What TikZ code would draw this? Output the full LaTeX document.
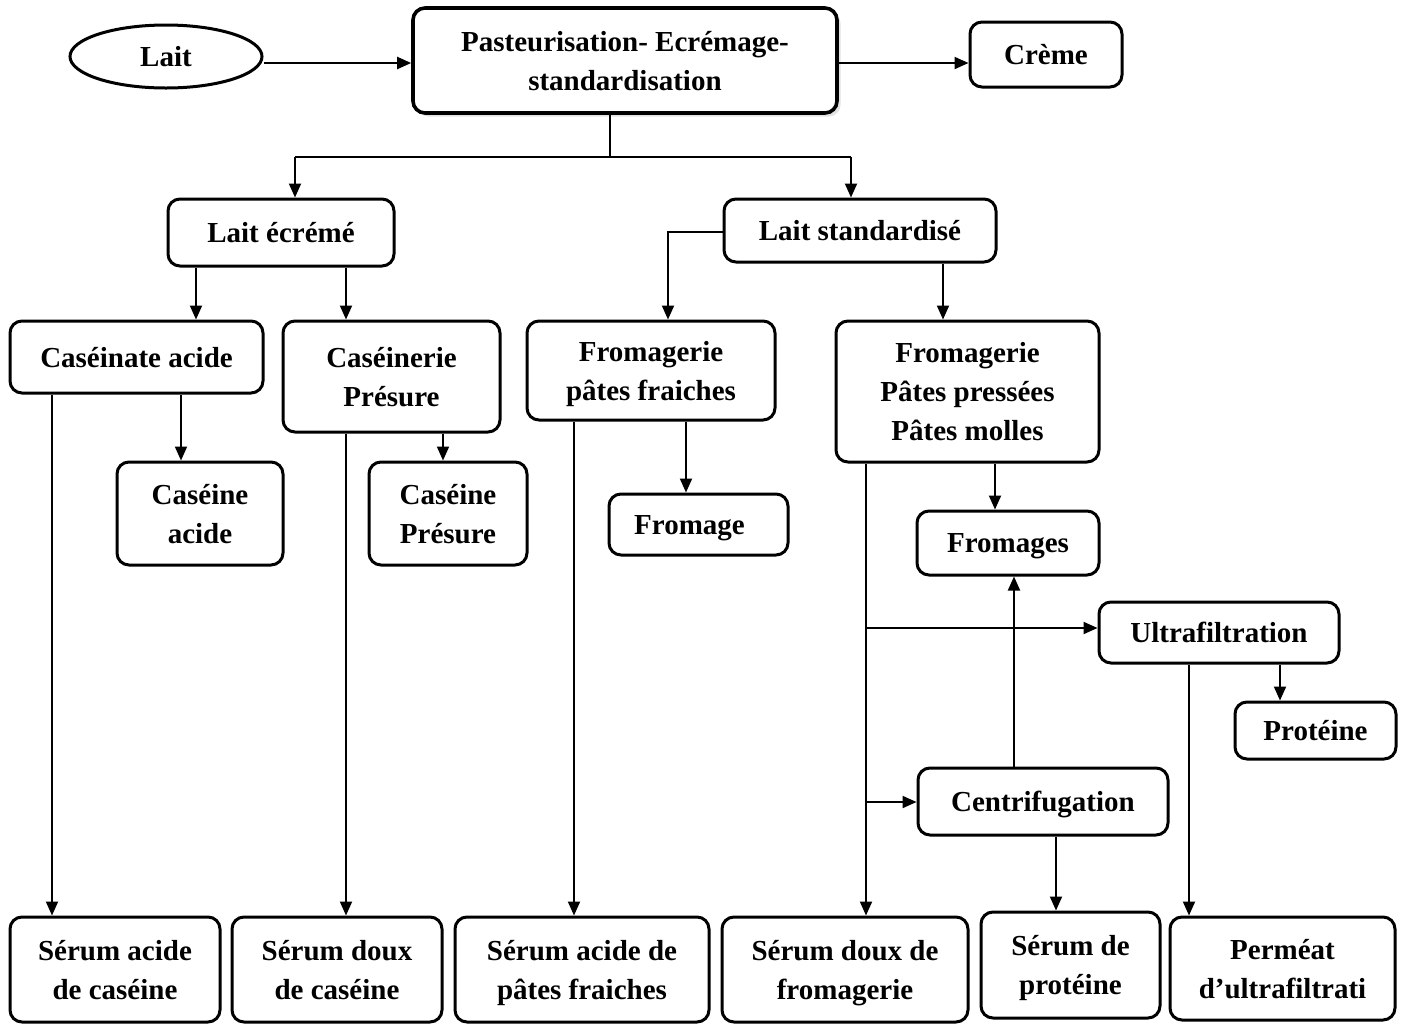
\documentclass[tikz,border=0pt]{standalone}
\usepackage{fontspec}
\setmainfont{Liberation Serif}
\usetikzlibrary{shapes.geometric,shadows,arrows.meta}
\begin{document}
\begin{tikzpicture}[x=0.5pt,y=-0.5pt,
  txt/.style={font=\fontsize{14.5}{19.5}\selectfont\bfseries,align=center},
  box/.style={txt,draw,fill=white,line width=1.5pt,rounded corners=6pt,inner sep=0pt,text depth=0pt},
  con/.style={line width=1pt,-{Triangle[length=7pt,width=6pt]}},
  ln/.style={line width=1pt}]
\useasboundingbox[fill=white] (0,0) rectangle (1405,1024);
% nodes
\node[txt,draw,ellipse,line width=1.5pt,inner sep=0pt,minimum width=96pt,minimum height=31.5pt] (lait) at (166,56.5) {Lait};
\node[box,line width=1.8pt,minimum width=212pt,minimum height=52.5pt,
  drop shadow={shadow xshift=1.8pt,shadow yshift=-1.8pt,fill=gray!45}] (past) at (625,60.5) {Pasteurisation- Ecrémage-\\standardisation};
\node[box,minimum width=76pt,minimum height=32.5pt] (creme) at (1046,54.5) {Crème};
\node[box,minimum width=113pt,minimum height=33.5pt] (le) at (281,232.5) {Lait écrémé};
\node[box,minimum width=136pt,minimum height=31.5pt] (ls) at (860,230.5) {Lait standardisé};
\node[box,minimum width=126.5pt,minimum height=36pt] (ca) at (136.5,357) {Caséinate acide};
\node[box,minimum width=108.5pt,minimum height=55.5pt] (cp) at (391.5,376.5) {Caséinerie\\Présure};
\node[box,minimum width=124pt,minimum height=49.5pt] (fpf) at (651,370.5) {Fromagerie\\pâtes fraiches};
\node[box,minimum width=131.5pt,minimum height=70.5pt] (fpp) at (967.5,391.5) {Fromagerie\\Pâtes pressées\\Pâtes molles};
\node[box,minimum width=83pt,minimum height=51.5pt] (cac) at (200,513.5) {Caséine\\acide};
\node[box,minimum width=79pt,minimum height=51.5pt] (cpr) at (448,513.5) {Caséine\\Présure};
\node[box,minimum width=89.5pt,minimum height=30.5pt] (fro) at (698.5,524.5) {Fromage\hspace*{9pt}};
\node[box,minimum width=91pt,minimum height=32pt] (fros) at (1008,543) {Fromages};
\node[box,minimum width=120pt,minimum height=30.5pt] (uf) at (1219,632.5) {Ultrafiltration};
\node[box,minimum width=80.5pt,minimum height=28.5pt] (prot) at (1315.5,730.5) {Protéine};
\node[box,minimum width=125pt,minimum height=33.5pt] (cen) at (1043,801.5) {Centrifugation};
\node[box,minimum width=105pt,minimum height=52.5pt] (sac) at (115,969.5) {Sérum acide\\de caséine};
\node[box,minimum width=105pt,minimum height=52.5pt] (sdc) at (337,969.5) {Sérum doux\\de caséine};
\node[box,minimum width=127pt,minimum height=52.5pt] (sapf) at (582,969.5) {Sérum acide de\\pâtes fraiches};
\node[box,minimum width=123pt,minimum height=52.5pt] (sdf) at (845,969.5) {Sérum doux de\\fromagerie};
\node[box,minimum width=89.5pt,minimum height=53pt] (sp) at (1070.5,965) {Sérum de\\protéine};
\node[box,minimum width=112.5pt,minimum height=51.5pt] (perm) at (1282.5,968.5) {Perméat\\d’ultrafiltrati};
% helper coordinates
\coordinate (y63) at (0,63);
\coordinate (j) at (610,157);
\coordinate (jl) at (295,157);
\coordinate (jr) at (851,157);
\coordinate (k) at (668,232);
\coordinate (x943) at (943,0);
\coordinate (x196) at (196,0);
\coordinate (x346) at (346,0);
\coordinate (x181) at (181,0);
\coordinate (x443) at (443,0);
\coordinate (x686) at (686,0);
\coordinate (x995) at (995,0);
\coordinate (x52) at (52,0);
\coordinate (x574) at (574,0);
\coordinate (x866) at (866,0);
\coordinate (b1) at (866,628);
\coordinate (b2) at (866,802);
\coordinate (x1014) at (1014,0);
\coordinate (x1056) at (1056,0);
\coordinate (x1280) at (1280,0);
\coordinate (x1189) at (1189,0);
% connectors
\draw[con] (lait.east |- y63) -- (past.west |- y63);
\draw[con] (past.east |- y63) -- (creme.west |- y63);
\draw[ln] (past.south -| j) -- (j);
\draw[ln] (jl) -- (jr);
\draw[con] (jl) -- (le.north -| jl);
\draw[con] (jr) -- (ls.north -| jr);
\draw[con] (ls.west |- k) -- (k) -- (fpf.north -| k);
\draw[con] (ls.south -| x943) -- (fpp.north -| x943);
\draw[con] (le.south -| x196) -- (ca.north -| x196);
\draw[con] (le.south -| x346) -- (cp.north -| x346);
\draw[con] (ca.south -| x181) -- (cac.north -| x181);
\draw[con] (cp.south -| x443) -- (cpr.north -| x443);
\draw[con] (fpf.south -| x686) -- (fro.north -| x686);
\draw[con] (fpp.south -| x995) -- (fros.north -| x995);
\draw[con] (ca.south -| x52) -- (sac.north -| x52);
\draw[con] (cp.south -| x346) -- (sdc.north -| x346);
\draw[con] (fpf.south -| x574) -- (sapf.north -| x574);
\draw[con] (fpp.south -| x866) -- (sdf.north -| x866);
\draw[con] (b1) -- (uf.west |- b1);
\draw[con] (b2) -- (cen.west |- b2);
\draw[con] (cen.north -| x1014) -- (fros.south -| x1014);
\draw[con] (cen.south -| x1056) -- (sp.north -| x1056);
\draw[con] (uf.south -| x1280) -- (prot.north -| x1280);
\draw[con] (uf.south -| x1189) -- (perm.north -| x1189);
\end{tikzpicture}
\end{document}
